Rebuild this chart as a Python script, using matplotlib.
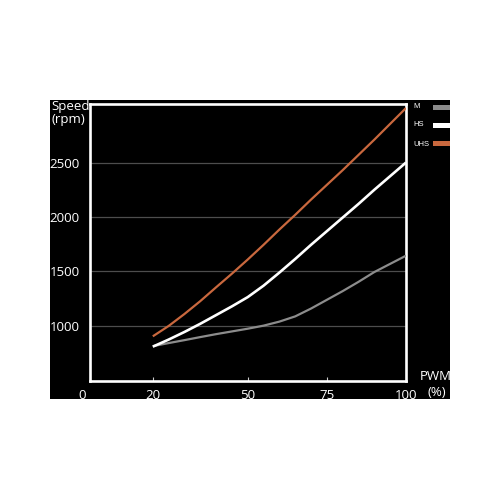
import matplotlib
matplotlib.use("Agg")
import matplotlib.pyplot as plt
import matplotlib.patches as mpatches
from matplotlib.transforms import ScaledTranslation

plt.rcParams["font.family"] = ["Open Sans", "DejaVu Sans"]

# data
pwm = [20, 25, 30, 35, 40, 45, 50, 55, 60, 65, 70, 75, 80, 85, 90, 95, 100]
speed_m = [815, 843, 870, 898, 925, 950, 975, 1003, 1040, 1088, 1160, 1240,
           1320, 1405, 1495, 1570, 1645]
speed_hs = [810, 875, 945, 1020, 1100, 1180, 1265, 1370, 1490, 1615, 1745, 1870,
            1995, 2120, 2250, 2375, 2500]
speed_uhs = [905, 1000, 1110, 1228, 1355, 1480, 1610, 1745, 1885, 2020, 2160, 2295,
             2430, 2570, 2710, 2855, 3000]

x_ticks = [0, 20, 50, 75, 100]
y_ticks = [1000, 1500, 2000, 2500]

series = [
    ("M", speed_m, "#8c8c8c", 1.6),
    ("HS", speed_hs, "#ffffff", 1.9),
    ("UHS", speed_uhs, "#c9683e", 1.6),
]

W = 500.0
fig = plt.figure(figsize=(5, 5), dpi=100, facecolor="white")

# black panel behind everything
fig.patches.append(mpatches.Rectangle((50 / W, 1 - 399 / W), 400 / W, 299 / W,
                                      transform=fig.transFigure,
                                      facecolor="black", edgecolor="none", zorder=-5))

ax = fig.add_axes([89.5 / W, 1 - 381 / W, 316.5 / W, 277 / W])
ax.set_zorder(1)
ax.set_facecolor("black")
ax.set_xlim(0, 100)
ax.set_ylim(495, 3037)

for name, vals, col, lw in series:
    ax.plot(pwm, vals, color=col, lw=lw, solid_joinstyle="round", solid_capstyle="butt", zorder=3)

for y in y_ticks:
    ax.axhline(y, color="#4d4d4d", lw=0.9, zorder=1)

for s in ax.spines.values():
    s.set_color("white")
    s.set_linewidth(1.9)

ax.set_xticks(x_ticks)
ax.set_xticklabels([str(v) for v in x_ticks])
ax.set_yticks(y_ticks)
ax.set_yticklabels([str(v) for v in y_ticks])
ax.tick_params(axis="x", direction="in", length=3, width=0.8, color="#cccccc",
               labelcolor="white", labelsize=9.5, pad=6)
ax.tick_params(axis="y", length=0, labelcolor="white", labelsize=9.5, pad=7)

# the "0" label sits a bit left of the axis corner
zero_lbl = ax.get_xticklabels()[0]
zero_lbl.set_transform(zero_lbl.get_transform() + ScaledTranslation(-0.075, 0, fig.dpi_scale_trans))

fig.text(51 / W, 1 - 100 / W, "Speed\n(rpm)", color="white", fontsize=9.5,
         ha="left", va="top", linespacing=1.05, zorder=3)
fig.text(436 / W, 1 - 377 / W, "PWM", color="white", fontsize=9.5, ha="center", va="center", zorder=3)
fig.text(437 / W, 1 - 393 / W, "(%)", color="white", fontsize=9.5, ha="center", va="center", zorder=3)

# legend swatches on the right
leg_y = [107, 125, 144]
for (name, vals, col, lw), yc in zip(series, leg_y):
    fig.text(413 / W, 1 - yc / W, name, color="white", fontsize=5.5,
             ha="left", va="center", family=["Liberation Sans Narrow", "Liberation Sans"], zorder=3)
    fig.patches.append(mpatches.Rectangle((433 / W, 1 - (yc + 2.5) / W), 17 / W, 5 / W,
                                          transform=fig.transFigure,
                                          facecolor=col, edgecolor="none", zorder=2))

fig.savefig("out.png", dpi=100, facecolor="white")
